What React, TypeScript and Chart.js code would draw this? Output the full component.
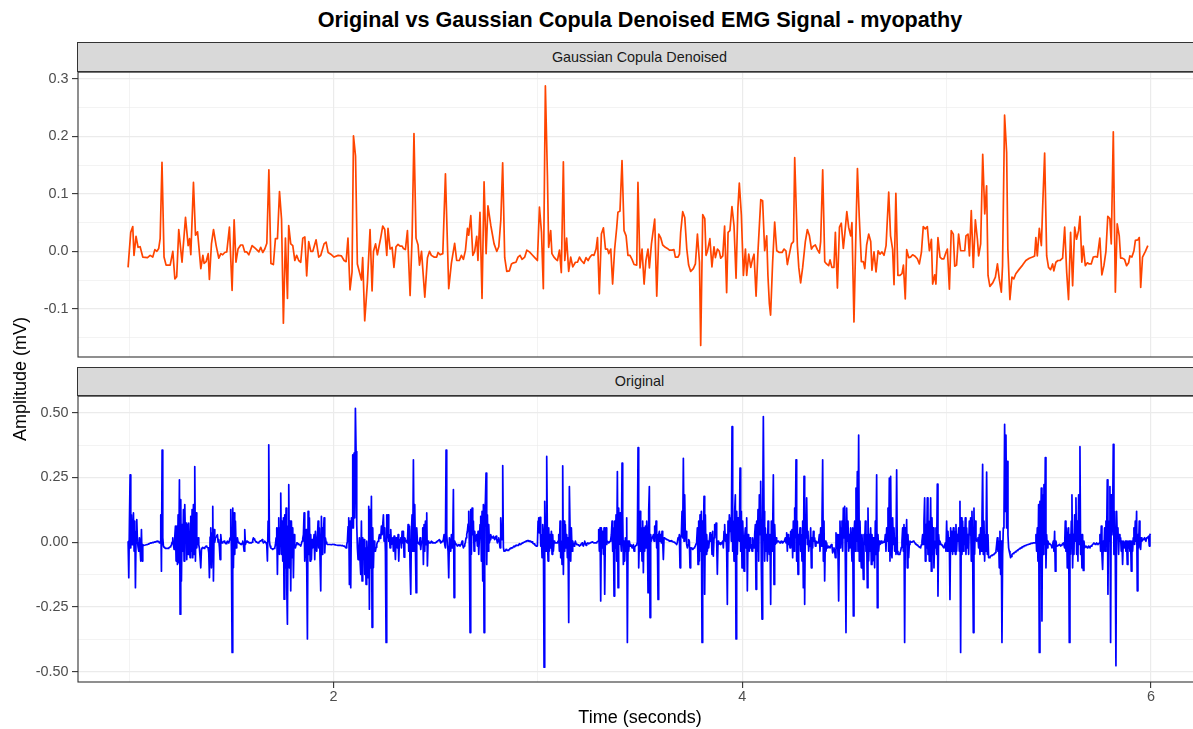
import React, { useEffect, useRef } from "react";
import { Chart, registerables } from "chart.js";

Chart.register(...registerables);

const FONT = '"Liberation Sans", Arial, Helvetica, sans-serif';

const TITLE = "Original vs Gaussian Copula Denoised EMG Signal - myopathy";
const PANEL_TOP_LABEL = "Gaussian Copula Denoised";
const PANEL_BOTTOM_LABEL = "Original";
const X_TITLE = "Time (seconds)";
const Y_TITLE = "Amplitude (mV)";

const X_MIN = 0.75;
const X_MAX = 6.25;
const X_MAJOR = [2, 4, 6];
const X_MINOR = [1, 3, 5];

const TOP_Y_MIN = -0.184;
const TOP_Y_MAX = 0.312;
const TOP_Y_MAJOR = [-0.1, 0, 0.1, 0.2, 0.3];
const TOP_Y_LABELS = ["-0.1", "0.0", "0.1", "0.2", "0.3"];
const TOP_Y_MINOR = [-0.15, -0.05, 0.05, 0.15, 0.25];

const BOT_Y_MIN = -0.54;
const BOT_Y_MAX = 0.564;
const BOT_Y_MAJOR = [-0.5, -0.25, 0, 0.25, 0.5];
const BOT_Y_LABELS = ["-0.50", "-0.25", "0.00", "0.25", "0.50"];
const BOT_Y_MINOR = [-0.375, -0.125, 0.125, 0.375];

// Gaussian Copula denoised signal: [time (s), amplitude (mV)]
const DENOISED: [number, number][] = [
  [0.995, -0.028], [1.008, 0.033], [1.018, 0.043], [1.024, -0.007], [1.034, 0.026], [1.044, 0.007], [1.054, 0.008], [1.067, -0.01], [1.09, -0.011], [1.103, -0.007],
  [1.116, -0.01], [1.126, 0.003], [1.136, 0.0], [1.145, 0.005], [1.152, 0.022], [1.161, 0.155], [1.171, -0.01], [1.181, -0.024], [1.201, -0.024], [1.214, 0.0],
  [1.224, -0.048], [1.233, -0.044], [1.243, 0.038], [1.259, -0.019], [1.276, 0.059], [1.289, 0.01], [1.296, 0.022], [1.302, -0.006], [1.315, 0.12], [1.325, 0.028],
  [1.335, 0.034], [1.351, -0.03], [1.361, -0.007], [1.367, -0.021], [1.377, -0.018], [1.387, -0.004], [1.393, -0.049], [1.403, 0.013], [1.413, 0.038], [1.426, 0.01],
  [1.439, -0.012], [1.449, -0.004], [1.458, -0.006], [1.468, -0.002], [1.478, -0.001], [1.491, 0.042], [1.504, -0.068], [1.514, 0.055], [1.523, -0.019], [1.533, 0.004],
  [1.546, 0.011], [1.556, 0.011], [1.566, -0.001], [1.576, -0.001], [1.586, -0.006], [1.602, 0.01], [1.618, 0.005], [1.635, -0.001], [1.644, 0.007], [1.654, -0.002],
  [1.664, 0.004], [1.674, 0.014], [1.684, 0.142], [1.694, -0.021], [1.706, -0.023], [1.716, 0.022], [1.726, 0.022], [1.736, 0.104], [1.746, 0.056], [1.755, -0.125],
  [1.765, 0.023], [1.775, -0.082], [1.781, 0.045], [1.791, 0.013], [1.801, 0.01], [1.811, -0.016], [1.82, -0.007], [1.83, -0.016], [1.84, -0.019], [1.85, 0.023],
  [1.86, 0.025], [1.869, -0.043], [1.879, 0.017], [1.889, 0.0], [1.899, 0.0], [1.915, 0.02], [1.928, -0.01], [1.938, -0.007], [1.954, 0.013], [1.964, 0.016],
  [1.974, -0.002], [1.987, -0.005], [2.003, -0.01], [2.023, -0.007], [2.039, -0.008], [2.052, -0.016], [2.062, -0.018], [2.071, 0.023], [2.081, -0.067], [2.091, -0.036],
  [2.098, 0.201], [2.108, 0.166], [2.117, -0.022], [2.127, -0.036], [2.137, -0.05], [2.143, -0.011], [2.153, -0.121], [2.166, -0.055], [2.179, 0.038], [2.189, -0.069],
  [2.196, 0.0], [2.206, 0.013], [2.215, -0.006], [2.231, 0.023], [2.241, 0.044], [2.251, 0.038], [2.261, -0.007], [2.267, 0.04], [2.277, 0.004], [2.287, 0.007],
  [2.296, -0.028], [2.306, 0.008], [2.316, 0.012], [2.326, 0.009], [2.336, 0.009], [2.342, 0.005], [2.352, 0.003], [2.362, 0.036], [2.375, -0.077], [2.385, 0.026],
  [2.394, 0.205], [2.404, 0.023], [2.414, 0.011], [2.421, -0.024], [2.431, 0.0], [2.447, -0.08], [2.46, -0.011], [2.47, 0.0], [2.479, -0.007], [2.492, -0.01],
  [2.505, -0.01], [2.512, -0.002], [2.522, -0.006], [2.535, -0.004], [2.548, 0.135], [2.564, -0.065], [2.577, -0.021], [2.593, 0.014], [2.603, -0.016], [2.616, -0.016],
  [2.626, -0.007], [2.636, -0.014], [2.646, 0.002], [2.656, 0.04], [2.662, 0.028], [2.672, 0.062], [2.682, -0.007], [2.691, 0.0], [2.701, 0.026], [2.707, -0.016],
  [2.717, 0.068], [2.727, -0.082], [2.737, 0.121], [2.747, -0.004], [2.756, 0.079], [2.77, 0.045], [2.786, 0.013], [2.799, 0.0], [2.809, 0.008], [2.819, 0.055],
  [2.828, 0.154], [2.838, -0.011], [2.848, -0.035], [2.861, -0.034], [2.871, -0.022], [2.881, -0.02], [2.893, -0.019], [2.903, -0.01], [2.913, -0.007], [2.923, -0.014],
  [2.936, -0.01], [2.946, 0.002], [2.959, -0.001], [2.972, -0.006], [2.985, -0.011], [2.998, -0.016], [3.008, 0.077], [3.018, 0.033], [3.027, -0.065], [3.037, 0.288],
  [3.047, 0.132], [3.053, 0.007], [3.063, 0.036], [3.069, -0.004], [3.079, -0.01], [3.089, -0.014], [3.096, -0.016], [3.106, 0.002], [3.115, -0.037], [3.125, 0.156],
  [3.132, -0.016], [3.141, 0.023], [3.151, -0.035], [3.161, -0.01], [3.171, -0.027], [3.184, -0.019], [3.194, -0.019], [3.204, -0.01], [3.213, -0.016], [3.226, -0.021],
  [3.236, -0.011], [3.246, -0.016], [3.255, -0.01], [3.265, -0.006], [3.275, -0.007], [3.285, 0.004], [3.292, 0.024], [3.301, -0.074], [3.311, 0.03], [3.321, 0.041],
  [3.331, 0.004], [3.341, 0.004], [3.347, -0.004], [3.357, 0.004], [3.366, -0.057], [3.376, 0.004], [3.386, 0.041], [3.392, 0.068], [3.402, 0.07], [3.412, 0.158],
  [3.422, 0.036], [3.432, 0.027], [3.441, -0.007], [3.451, -0.007], [3.461, -0.014], [3.471, -0.023], [3.484, -0.024], [3.49, 0.12], [3.5, -0.029], [3.51, 0.004],
  [3.52, -0.057], [3.529, -0.016], [3.539, 0.004], [3.546, -0.029], [3.556, 0.013], [3.572, 0.056], [3.582, -0.078], [3.592, 0.03], [3.601, 0.024], [3.611, 0.011],
  [3.624, 0.007], [3.634, 0.005], [3.644, 0.002], [3.657, 0.002], [3.666, 0.003], [3.673, -0.01], [3.686, -0.01], [3.693, -0.005], [3.699, 0.033], [3.709, 0.069],
  [3.719, 0.059], [3.729, 0.004], [3.738, -0.024], [3.748, -0.035], [3.761, -0.03], [3.771, -0.022], [3.781, 0.03], [3.791, -0.019], [3.797, -0.164], [3.807, 0.064],
  [3.817, 0.057], [3.823, -0.007], [3.83, 0.0], [3.842, 0.022], [3.852, -0.027], [3.862, 0.008], [3.869, -0.011], [3.879, 0.004], [3.888, 0.0], [3.895, -0.012],
  [3.905, -0.008], [3.914, 0.044], [3.924, -0.072], [3.931, 0.033], [3.94, 0.036], [3.95, 0.078], [3.96, 0.045], [3.97, -0.047], [3.979, 0.075], [3.986, 0.119],
  [3.996, 0.063], [4.006, -0.042], [4.016, 0.004], [4.022, -0.042], [4.032, -0.005], [4.042, -0.028], [4.051, -0.013], [4.058, -0.005], [4.068, -0.078], [4.077, -0.002],
  [4.091, 0.09], [4.1, 0.088], [4.11, 0.001], [4.12, 0.027], [4.126, -0.042], [4.133, -0.091], [4.139, -0.111], [4.149, -0.019], [4.159, 0.051], [4.169, 0.001],
  [4.182, -0.002], [4.195, -0.002], [4.205, 0.004], [4.214, 0.001], [4.221, -0.023], [4.231, -0.005], [4.241, 0.013], [4.251, 0.017], [4.257, 0.163], [4.27, 0.01],
  [4.277, -0.028], [4.286, -0.055], [4.296, -0.028], [4.309, 0.017], [4.319, 0.038], [4.329, 0.027], [4.339, 0.004], [4.348, 0.009], [4.358, 0.011], [4.368, 0.003],
  [4.378, -0.003], [4.384, 0.017], [4.394, 0.142], [4.404, -0.018], [4.413, -0.022], [4.423, -0.025], [4.43, -0.015], [4.439, -0.028], [4.449, -0.028], [4.456, 0.033],
  [4.466, -0.064], [4.476, 0.042], [4.485, 0.049], [4.495, 0.005], [4.502, 0.03], [4.512, 0.069], [4.521, 0.042], [4.531, 0.027], [4.537, 0.05], [4.547, -0.123],
  [4.557, 0.04], [4.564, 0.144], [4.573, 0.059], [4.583, -0.018], [4.593, -0.018], [4.6, -0.03], [4.609, 0.011], [4.619, 0.03], [4.629, 0.017], [4.635, -0.033],
  [4.645, -0.001], [4.655, -0.036], [4.665, 0.001], [4.674, -0.005], [4.684, -0.001], [4.694, -0.007], [4.704, 0.01], [4.717, 0.103], [4.726, 0.027], [4.736, 0.004],
  [4.743, -0.058], [4.752, 0.101], [4.762, -0.042], [4.772, -0.042], [4.782, -0.039], [4.789, -0.024], [4.798, -0.083], [4.805, 0.003], [4.815, -0.011], [4.824, -0.01],
  [4.834, -0.006], [4.844, -0.008], [4.857, -0.013], [4.867, -0.022], [4.877, -0.002], [4.886, 0.043], [4.896, 0.039], [4.906, 0.043], [4.916, 0.001], [4.926, 0.021],
  [4.932, -0.057], [4.942, -0.041], [4.948, -0.057], [4.958, 0.024], [4.968, -0.01], [4.977, -0.013], [4.987, -0.013], [4.997, -0.002], [5.004, 0.004], [5.014, -0.066],
  [5.023, 0.036], [5.033, 0.03], [5.04, -0.026], [5.049, -0.024], [5.059, 0.03], [5.069, 0.001], [5.079, 0.001], [5.089, 0.001], [5.095, 0.027], [5.105, 0.03],
  [5.112, -0.008], [5.121, 0.071], [5.131, -0.028], [5.141, 0.055], [5.151, 0.021], [5.157, -0.008], [5.167, 0.013], [5.177, 0.169], [5.187, 0.065], [5.196, 0.114],
  [5.203, -0.042], [5.212, -0.061], [5.226, -0.055], [5.239, -0.045], [5.249, -0.022], [5.258, -0.048], [5.268, -0.071], [5.274, -0.025], [5.284, 0.237], [5.294, 0.172],
  [5.3, 0.004], [5.31, -0.084], [5.32, -0.045], [5.329, -0.048], [5.339, -0.039], [5.356, -0.031], [5.372, -0.024], [5.388, -0.016], [5.405, -0.012], [5.421, -0.01],
  [5.431, -0.008], [5.437, 0.024], [5.444, -0.008], [5.454, 0.04], [5.464, 0.01], [5.47, 0.074], [5.48, 0.171], [5.49, -0.008], [5.499, -0.028], [5.509, -0.032],
  [5.519, -0.022], [5.525, -0.034], [5.535, -0.019], [5.545, -0.016], [5.555, -0.016], [5.568, -0.012], [5.578, 0.042], [5.588, -0.037], [5.597, -0.084], [5.607, 0.033],
  [5.617, -0.06], [5.627, 0.042], [5.636, 0.021], [5.646, 0.036], [5.653, 0.061], [5.662, -0.019], [5.669, 0.009], [5.679, -0.025], [5.689, -0.02], [5.698, -0.022],
  [5.708, -0.022], [5.718, -0.01], [5.728, -0.009], [5.738, -0.01], [5.75, 0.023], [5.76, -0.041], [5.77, -0.025], [5.78, 0.0], [5.789, 0.061], [5.799, 0.057],
  [5.806, 0.013], [5.816, 0.208], [5.826, -0.071], [5.835, 0.048], [5.845, 0.027], [5.852, -0.012], [5.861, -0.012], [5.871, -0.014], [5.881, -0.025], [5.891, -0.02],
  [5.897, -0.008], [5.907, -0.01], [5.917, 0.001], [5.924, 0.019], [5.936, 0.02], [5.943, 0.024], [5.95, -0.063], [5.959, -0.01], [5.973, 0.0], [5.985, 0.01],
];

// Original signal, sampled every ORIGINAL_PERIOD seconds, in four consecutive segments
const ORIGINAL_PERIOD = 0.0032616;
const ORIGINAL_STARTS = [0.9952, 2.2314, 3.5034, 4.7754];

const ORIG_A = [
  0.004, -0.137, 0.081, 0.26, -0.022, 0.106, -0.01, 0.029, 0.113, -0.035,
  0.081, -0.176, 0.042, 0.087, 0.004, -0.02, -0.035, 0.017, -0.03, -0.073,
  0.049, -0.073, -0.009, -0.012, -0.012, -0.012, -0.011, -0.01, -0.009, -0.009,
  -0.008, -0.006, -0.005, -0.004, -0.003, -0.003, -0.002, -0.001, -0.002, 0,
  0.001, 0.001, 0.002, 0.003, 0.004, 0.002, 0.003, -0.003, -0.003, 0.106,
  -0.112, 0.356, 0.017, -0.015, -0.02, -0.022, -0.024, -0.024, -0.024, -0.024,
  -0.024, -0.022, -0.02, -0.018, -0.015, -0.01, 0, 0.017, -0.01, -0.028,
  0.02, 0.062, -0.073, 0.062, -0.086, 0.106, -0.079, 0.241, -0.278, 0.164,
  -0.15, 0.068, -0.035, 0.126, -0.073, 0.145, 0.017, 0.074, -0.067, 0.068,
  -0.047, 0.074, 0, -0.06, 0.1, -0.035, 0.126, -0.06, 0.145, -0.047,
  0.292, -0.073, 0.113, -0.022, 0.01, 0.017, -0.01, -0.024, -0.06, -0.099,
  -0.03, -0.022, -0.02, -0.022, -0.024, -0.02, -0.018, -0.015, -0.018, -0.02,
  -0.022, -0.04, -0.137, 0.02, 0.055, -0.099, 0.036, 0.138, -0.15, 0.049,
  0, 0.017, 0.02, 0.025, 0.029, 0, 0.01, -0.02, -0.067, 0.029,
  0, -0.003, 0, 0.002, 0.004, 0, -0.004, -0.006, 0, 0.004,
  0, -0.003, 0.006, 0.017, 0.126, -0.035, -0.426, 0.132, -0.099, 0.113,
  -0.047, 0.081, -0.022, 0, 0.017, 0, -0.003, -0.003, -0.006, -0.008,
  -0.009, -0.004, 0.004, -0.01, -0.035, 0.049, -0.009, 0, 0.004, 0.004,
  0, -0.002, -0.003, -0.003, -0.002, -0.003, 0, 0.008, 0.017, 0.012,
  0.008, 0.004, 0.001, 0, -0.002, -0.003, -0.001, 0.002, 0.004, 0.004,
  0.006, 0.01, 0.003, -0.003, 0, 0.004, 0, -0.003, -0.01, -0.073,
  0.081, 0.376, 0.004, -0.015, -0.022, -0.024, -0.026, -0.028, -0.026, -0.024,
  -0.022, -0.01, 0.017, 0.055, -0.124, 0.055, 0.094, -0.047, 0.055, 0.19,
  -0.047, 0.081, -0.073, 0.094, -0.22, 0.106, -0.099, 0.132, -0.176, -0.317,
  0.062, 0.222, -0.099, 0.081, -0.188, 0.081, -0.06, 0.055, -0.137, 0.029,
  -0.01, -0.022, -0.01, -0.003, -0.003, -0.006, -0.009, -0.009, -0.012, -0.015,
  -0.006, 0.004, 0.015, 0.029, 0.113, -0.073, 0.02, 0.049, -0.099, -0.374,
  0.119, -0.047, 0.094, -0.073, 0.029, -0.067, 0.01, -0.022, 0, 0.029,
  -0.067, 0.042, -0.01, -0.035, 0.02, 0.081, -0.022, 0.055, -0.073, -0.188,
  0.1, -0.047, 0.055, 0.02, 0.094, -0.041, 0.017, 0, -0.006, -0.009,
  -0.009, -0.009, -0.009, -0.009, -0.009, -0.01, -0.009, -0.008, -0.009, -0.009,
  -0.01, -0.01, -0.011, -0.011, -0.012, -0.012, -0.012, -0.012, -0.012, -0.012,
  -0.013, -0.013, -0.014, -0.015, -0.015, -0.017, -0.019, -0.022, -0.01, 0.004,
  0.06, 0.094, -0.163, 0.081, -0.176, 0.094, 0.055, 0.337, 0.055, 0.344,
  0.094, 0.517, 0.35, 0.068, -0.022, -0.067, -0.035, 0.017, -0.073, -0.124,
  0.081, -0.15, 0.017, -0.035, 0.01, -0.124, -0.022, -0.163, 0.004, -0.05,
  -0.137, 0.138, -0.259, 0.126, -0.099, 0.177, -0.329, 0.055, -0.099, 0.004,
  -0.02, -0.035, -0.02, -0.009, 0, 0.004, 0.015, 0.029, 0.015,
];

const ORIG_B = [
  0.017, 0.062, 0.029, 0.029, 0.106, 0.004, 0.055, -0.035, -0.387, 0.106,
  0.017, 0.106, 0.004, 0.029, -0.022, 0.049, -0.009, 0.01, 0.017, -0.035,
  0.023, -0.01, -0.067, 0.017, 0, -0.022, 0.029, -0.073, 0.004, 0.01,
  0.017, -0.022, 0.042, -0.003, 0.042, -0.058, 0.017, 0.01, 0.004, 0,
  -0.003, 0.068, -0.035, 0.062, -0.099, -0.201, 0.042, 0.106, -0.035, 0.318,
  -0.035, 0.145, -0.022, -0.195, 0.055, 0.004, -0.003, -0.006, -0.009, 0.017,
  -0.028, 0, 0.004, 0.055, -0.086, 0.068, -0.035, 0.081, -0.01, 0.113,
  -0.092, 0.004, -0.003, -0.003, -0.003, 0, 0.004, 0, -0.003, -0.003,
  -0.003, -0.003, -0.003, 0, 0.002, 0.004, 0.006, 0.008, 0.01, 0.004,
  -0.003, 0, 0.002, 0.004, 0.01, 0.029, -0.01, -0.022, 0.356, 0.029,
  -0.01, -0.035, -0.137, 0.017, -0.02, -0.035, 0.029, -0.022, 0, 0.203,
  -0.214, 0.004, -0.006, -0.008, -0.01, -0.015, -0.012, -0.009, -0.01, -0.015,
  -0.015, -0.006, 0.004, -0.01, -0.022, -0.015, -0.009, 0, 0.017, 0.03,
  0.042, 0.07, 0.119, -0.022, -0.349, 0.126, -0.047, 0.132, 0.029, 0.081,
  -0.035, 0.042, 0.004, 0.015, 0.029, -0.015, 0.042, -0.047, 0.017, 0.068,
  0.1, -0.073, 0.119, -0.15, 0.145, -0.349, 0.119, 0.158, 0.267, -0.086,
  0.106, -0.035, 0.068, -0.003, 0.01, 0.029, 0.02, 0.017, 0.02, 0.023,
  0.015, 0.01, 0.02, 0.023, 0.01, -0.003, 0.01, 0.017, 0, -0.022,
  0.094, 0.04, 0.01, 0.296, -0.02, -0.035, -0.035, -0.034, -0.028, -0.03,
  -0.032, -0.032, -0.03, -0.028, -0.024, -0.025, -0.022, -0.022, -0.02, -0.018,
  -0.015, -0.018, -0.014, -0.012, -0.013, -0.012, -0.012, -0.01, -0.006, -0.008,
  -0.009, -0.006, -0.004, -0.003, -0.001, 0, 0, 0.002, 0.004, 0.003,
  0.006, 0.006, 0.004, 0.003, 0.004, 0.002, 0, 0.001, -0.003, -0.006,
  -0.006, -0.01, -0.012, -0.015, -0.015, -0.015, 0.081, 0.094, 0.036, 0.096,
  -0.015, 0.029, -0.06, 0.068, 0.029, -0.483, 0.158, 0.029, -0.035, 0.331,
  0.029, -0.073, 0.055, -0.035, 0.029, -0.022, 0.042, -0.047, 0.029, -0.035,
  0.004, -0.003, -0.003, -0.003, -0.003, -0.003, 0.004, 0.029, -0.035, 0.081,
  -0.06, 0.004, -0.086, 0.295, -0.124, 0.081, -0.035, 0.068, -0.022, 0.029,
  -0.06, 0.017, -0.31, 0.215, 0.055, -0.073, 0.055, -0.035, 0.004, -0.01,
  -0.015, -0.006, 0.004, -0.006, -0.009, -0.009, -0.01, -0.012, -0.015, -0.012,
  -0.009, -0.006, -0.003, -0.01, -0.015, -0.006, 0.004, -0.006, -0.012, -0.006,
  -0.003, -0.004, -0.006, -0.004, -0.003, -0.002, 0, 0.001, 0, -0.002,
  -0.003, -0.003, -0.003, -0.003, -0.001, 0.002, 0.004, 0.049, -0.035, 0.055,
  -0.227, 0.055, -0.022, 0.042, -0.047, 0.055, -0.201, 0.029, 0.055, -0.009,
  0.004, 0, -0.003, 0, 0.004, 0.01, 0.029, 0.081, -0.035, 0.055,
  -0.208, 0.081, -0.022, 0.106, -0.073, 0.273, -0.176, 0.132, -0.009, 0.113,
  0.004, -0.035, 0.305, 0.106, -0.086, 0.004, -0.073, 0.017, -0.035, 0.094,
  -0.387, 0.004, -0.035, 0.004, -0.015, -0.009, -0.012, -0.022, -0.015, -0.009,
  -0.035, -0.02, -0.015, -0.012, -0.009, 0, 0.365, -0.099, 0.004, 0.119,
];

const ORIG_C = [
  -0.035, 0.055, -0.073, 0.081, -0.118, 0.055, -0.035, 0.062, -0.022, 0.081,
  0.029, -0.195, 0.119, 0.215, -0.291, 0.029, 0.004, 0.017, 0.02, 0.029,
  0.004, 0.062, 0.017, 0.081, -0.022, 0.029, -0.221, 0.029, 0.042, 0.004,
  0.029, -0.003, 0.042, 0.004, -0.067, 0.017, 0.016, 0.014, 0.012, 0.01,
  0.01, 0.008, 0.006, 0.004, 0.005, 0.004, 0.006, 0.003, 0.002, 0.001,
  0, -0.002, -0.003, -0.006, -0.009, 0, 0.017, 0.01, 0.029, -0.099,
  0.017, 0.029, 0.119, 0.017, 0.324, 0.004, 0.183, 0.017, 0.042, -0.009,
  -0.022, -0.009, 0.01, 0.004, -0.099, -0.022, -0.022, -0.024, -0.028, -0.026,
  -0.022, -0.019, -0.015, -0.006, 0.004, 0.055, -0.086, 0.081, -0.073, 0.106,
  -0.035, 0.119, -0.387, 0.081, 0.017, 0.177, -0.201, 0.106, -0.047, 0.029,
  -0.035, 0.004, -0.022, 0.004, 0.036, 0.004, 0.029, -0.047, 0.042, -0.054,
  0.017, 0.068, 0.029, 0.074, 0.004, -0.124, 0.004, -0.009, -0.006, -0.003,
  -0.009, -0.006, 0, 0.004, -0.022, 0.042, 0.068, 0.004, 0.029, -0.035,
  -0.24, 0.081, -0.035, 0.106, 0.042, 0.094, 0.004, 0.446, -0.035, 0.081,
  -0.073, 0.119, 0.183, -0.374, 0.119, -0.047, 0.094, 0.029, 0.004, 0.286,
  -0.035, 0.119, -0.099, 0.081, 0.004, -0.112, 0.017, 0.055, -0.022, 0.094,
  -0.188, 0.029, 0.004, -0.035, 0.017, -0.022, -0.009, -0.035, 0.017, -0.003,
  -0.022, 0.029, 0.068, -0.182, 0.081, -0.035, 0.126, -0.073, 0.183, 0.029,
  0.235, -0.099, -0.297, 0.081, 0.485, 0.119, -0.073, 0.055, -0.035, 0.029,
  -0.073, 0.081, 0.004, -0.047, 0.029, -0.24, 0.081, -0.035, 0.042, 0.26,
  -0.163, 0.068, -0.009, 0.017, -0.003, 0.004, 0.004, 0.002, 0, -0.003,
  0.001, 0.004, 0.002, -0.003, 0, 0.004, 0.008, 0.017, -0.003, 0.036,
  -0.035, 0.029, -0.009, 0.017, -0.022, 0.042, 0.004, 0.049, -0.06, 0.081,
  -0.035, 0.132, 0.017, 0.318, -0.073, 0.081, -0.124, 0.029, -0.009, 0.055,
  -0.035, 0.029, -0.073, 0.081, -0.176, 0.254, -0.24, 0.068, 0.017, 0.171,
  -0.009, 0.042, -0.035, 0.004, -0.015, 0.055, -0.099, 0.017, -0.022, 0.042,
  0.004, 0.017, -0.015, 0.004, 0, -0.003, 0, 0.004, 0.029, -0.035,
  0.055, -0.015, 0.081, 0.318, -0.073, 0.081, -0.15, 0.004, -0.035, -0.003,
  -0.022, -0.02, -0.015, -0.02, -0.022, -0.015, -0.009, -0.015, -0.041, -0.03,
  -0.022, -0.035, -0.06, 0.036, -0.022, 0.029, -0.047, -0.227, 0.029, 0.081,
  -0.022, 0.055, 0.081, -0.035, 0.132, 0.017, 0.138, -0.073, -0.349, 0.132,
  0.004, 0.081, -0.035, 0.029, -0.022, 0.055, 0.004, -0.073, 0.055, -0.285,
  0.029, 0.081, -0.035, 0.209, 0.004, 0.273, -0.035, 0.414, -0.073, 0.081,
  -0.035, -0.099, 0.029, -0.035, -0.144, 0.029, -0.009, 0.081, -0.035, 0.029,
  -0.176, 0.132, -0.073, 0.029, -0.035, 0.055, -0.086, 0.029, -0.073, 0.017,
  -0.035, -0.099, 0.081, -0.047, 0.26, -0.253, 0.029, -0.035, 0.004, -0.009,
  -0.006, 0.004, -0.003, -0.003, 0, 0.004, 0, 0.029, -0.035, 0.055,
  0.004, 0.132, -0.035, 0.247, -0.073, 0.254, -0.035, -0.06, 0.094, -0.009,
  0.055, -0.035, 0.017, -0.047, 0.279, -0.035, -0.047, -0.047, -0.047, -0.041,
];

const ORIG_D = [
  -0.035, -0.02, 0.004, 0.055, -0.035, 0.068, -0.387, 0.055, -0.009, 0.087,
  -0.099, 0.029, -0.06, -0.009, 0.004, 0.002, 0, 0.001, 0.002, 0.004,
  0.002, -0.001, -0.006, -0.008, -0.01, -0.012, -0.014, -0.016, -0.019, -0.02,
  -0.022, -0.01, 0.004, 0.029, -0.009, 0.081, 0.171, -0.073, 0.068, -0.022,
  0.171, -0.047, 0.081, -0.073, 0.004, 0.171, -0.112, 0.094, -0.047, 0.055,
  -0.099, 0.004, -0.022, 0.055, -0.047, 0.224, -0.208, 0.029, -0.009, 0.004,
  -0.006, -0.009, -0.012, -0.015, -0.019, -0.022, -0.01, -0.003, -0.035, 0.081,
  -0.035, 0.042, -0.022, 0.017, -0.221, 0.055, -0.035, 0.042, -0.047, 0.055,
  -0.035, 0.042, -0.047, 0.068, -0.035, 0.029, 0.004, 0.055, -0.035, 0.158,
  -0.426, 0.094, -0.047, 0.081, -0.035, 0.055, -0.009, 0.094, -0.047, 0.055,
  -0.022, 0.029, -0.047, 0.081, 0.029, 0.094, -0.073, 0.119, -0.022, -0.349,
  0.132, -0.047, 0.081, 0.017, 0.004, 0.01, 0.017, -0.022, 0.029, -0.047,
  0.055, -0.035, 0.081, 0.301, -0.047, 0.081, -0.073, 0.029, -0.035, 0.271,
  -0.047, 0.029, -0.06, -0.06, -0.058, -0.054, -0.052, -0.05, -0.05, -0.048,
  -0.046, -0.045, -0.04, -0.035, -0.009, 0.017, -0.035, 0.004, -0.099, 0.042,
  -0.124, 0.004, -0.387, -0.047, 0.055, 0.081, 0.455, 0.119, 0.414, 0.055,
  0.312, 0.029, -0.022, -0.035, -0.047, -0.06, -0.055, -0.047, -0.045, -0.044,
  -0.041, -0.04, -0.038, -0.035, -0.034, -0.032, -0.029, -0.028, -0.026, -0.024,
  -0.023, -0.022, -0.019, -0.018, -0.017, -0.015, -0.014, -0.013, -0.012, -0.011,
  -0.01, -0.009, -0.008, -0.008, -0.006, -0.005, -0.005, -0.004, -0.004, -0.003,
  -0.003, -0.003, -0.003, 0.029, -0.035, 0.055, -0.073, 0.145, -0.426, 0.158,
  0.029, 0.209, -0.304, 0.183, -0.047, 0.222, -0.009, 0.327, -0.099, 0.029,
  -0.022, 0.004, -0.003, -0.006, -0.008, -0.009, -0.012, -0.022, -0.01, 0.004,
  -0.035, 0.042, -0.112, 0.004, -0.015, -0.015, -0.015, -0.012, -0.009, -0.012,
  -0.015, -0.012, -0.009, -0.006, -0.003, -0.01, -0.022, 0.081, -0.035, 0.055,
  -0.099, 0.004, 0.055, -0.387, 0.029, -0.047, 0.081, 0.183, -0.099, 0.029,
  -0.047, 0.106, 0.004, 0.171, -0.047, 0.081, -0.073, 0.183, -0.009, 0.369,
  -0.047, 0.029, -0.099, 0.029, -0.109, 0.004, -0.022, -0.018, -0.015, -0.018,
  -0.022, -0.019, -0.015, -0.018, -0.022, -0.015, -0.015, -0.012, -0.009, -0.006,
  -0.003, -0.006, -0.009, -0.006, -0.003, -0.006, -0.009, -0.006, -0.003, 0.029,
  -0.035, 0.062, -0.047, -0.105, 0.004, -0.035, 0.055, -0.035, 0.081, 0.004,
  0.241, -0.201, 0.081, 0.004, 0.215, -0.387, 0.183, 0.029, 0.081, 0.378,
  -0.047, 0.119, -0.047, -0.477, 0.119, 0.017, 0.055, -0.047, 0.029, 0.004,
  0.017, -0.035, 0.004, -0.086, 0.004, 0.004, -0.022, 0.004, -0.035, 0.004,
  -0.086, 0.004, -0.022, 0.004, -0.035, 0.004, -0.112, 0.004, -0.035, 0.017,
  0.055, -0.009, 0.081, 0.004, 0.119, -0.188, 0.029, -0.022, 0.081, 0.004,
  -0.028, 0.017, 0.004, 0.01, 0.01, 0.014, 0.017, 0.01, 0.004, 0.017,
  0.017, 0.02, 0.023, -0.015, 0.029, 0.032,
];

const ORIGINAL_SEGMENTS = [ORIG_A, ORIG_B, ORIG_C, ORIG_D];

const COLOR_DENOISED = "#FF4500";
const COLOR_ORIGINAL = "#0000FF";

const near = (list: number[], v: number) => list.some((m) => Math.abs(m - v) < 1e-9);

const panelBorder = {
  id: "panelBorder",
  afterDatasetsDraw(chart: any) {
    const { ctx, chartArea: a } = chart;
    ctx.save();
    ctx.strokeStyle = "#333333";
    ctx.lineWidth = 1.1;
    ctx.strokeRect(a.left, a.top, a.right - a.left, a.bottom - a.top);
    ctx.restore();
  },
};

function makeConfig(opts: {
  points: { x: number; y: number }[];
  color: string;
  yMin: number;
  yMax: number;
  yMajor: number[];
  yLabels: string[];
  yMinor: number[];
  showX: boolean;
}): any {
  const { points, color, yMin, yMax, yMajor, yLabels, yMinor, showX } = opts;
  const yTicks = [...yMajor, ...yMinor].sort((a, b) => a - b);
  const xTicks = [...X_MAJOR, ...X_MINOR].sort((a, b) => a - b);
  return {
    type: "line",
    data: {
      datasets: [
        {
          data: points,
          borderColor: color,
          borderWidth: 1.7,
          pointRadius: 0,
          pointHoverRadius: 0,
          fill: false,
          tension: 0,
          borderJoinStyle: "round",
        },
      ],
    },
    options: {
      animation: false,
      responsive: false,
      maintainAspectRatio: false,
      parsing: false,
      normalized: true,
      events: [],
      layout: { padding: { top: 11, right: 8, bottom: showX ? 0 : 13, left: 0 } },
      plugins: { legend: { display: false }, tooltip: { enabled: false } },
      scales: {
        x: {
          type: "linear",
          min: X_MIN,
          max: X_MAX,
          afterBuildTicks: (s: any) => {
            s.ticks = xTicks.map((v) => ({ value: v }));
          },
          afterFit: (s: any) => {
            s.height = showX ? 47 : 0;
          },
          border: { display: false },
          grid: {
            color: "#EBEBEB",
            lineWidth: (c: any) => (c.tick && near(X_MAJOR, c.tick.value) ? 1.2 : 0.6),
            drawTicks: showX,
            tickLength: 6,
            tickWidth: 1.1,
            tickColor: (c: any) => (c.tick && near(X_MAJOR, c.tick.value) ? "#333333" : "rgba(0,0,0,0)"),
          },
          ticks: {
            display: showX,
            autoSkip: false,
            maxRotation: 0,
            padding: 0,
            color: "#4D4D4D",
            font: { family: FONT, size: 14.4 },
            callback: (v: number) => (near(X_MAJOR, v) ? String(v) : ""),
          },
        },
        y: {
          type: "linear",
          min: yMin,
          max: yMax,
          afterBuildTicks: (s: any) => {
            s.ticks = yTicks.map((v) => ({ value: v }));
          },
          afterFit: (s: any) => {
            s.width = 78;
          },
          border: { display: false },
          grid: {
            color: "#EBEBEB",
            lineWidth: (c: any) => (c.tick && near(yMajor, c.tick.value) ? 1.2 : 0.6),
            drawTicks: true,
            tickLength: 6,
            tickWidth: 1.1,
            tickColor: (c: any) => (c.tick && near(yMajor, c.tick.value) ? "#333333" : "rgba(0,0,0,0)"),
          },
          ticks: {
            autoSkip: false,
            padding: 3.5,
            color: "#4D4D4D",
            font: { family: FONT, size: 14.4 },
            callback: (v: number) => {
              const i = yMajor.findIndex((m) => Math.abs(m - v) < 1e-9);
              return i >= 0 ? yLabels[i] : "";
            },
          },
        },
      },
    },
    plugins: [panelBorder],
  };
}

const stripStyle = (top: number, height: number): React.CSSProperties => ({
  position: "absolute",
  left: 77,
  top,
  width: 1125,
  height,
  boxSizing: "border-box",
  background: "#D9D9D9",
  border: "1.1px solid #333333",
  color: "#1A1A1A",
  fontSize: 14.4,
  lineHeight: `${height - 2}px`,
  textAlign: "center",
});

export default function App() {
  const topRef = useRef<HTMLCanvasElement>(null);
  const botRef = useRef<HTMLCanvasElement>(null);

  useEffect(() => {
    const denoisedPoints = DENOISED.map(([t, v]) => ({ x: t, y: v }));
    const originalPoints: { x: number; y: number }[] = [];
    ORIGINAL_SEGMENTS.forEach((seg, s) => {
      seg.forEach((v, i) => originalPoints.push({ x: ORIGINAL_STARTS[s] + i * ORIGINAL_PERIOD, y: v }));
    });

    const top = new Chart(
      topRef.current as HTMLCanvasElement,
      makeConfig({
        points: denoisedPoints,
        color: COLOR_DENOISED,
        yMin: TOP_Y_MIN,
        yMax: TOP_Y_MAX,
        yMajor: TOP_Y_MAJOR,
        yLabels: TOP_Y_LABELS,
        yMinor: TOP_Y_MINOR,
        showX: false,
      })
    );
    const bot = new Chart(
      botRef.current as HTMLCanvasElement,
      makeConfig({
        points: originalPoints,
        color: COLOR_ORIGINAL,
        yMin: BOT_Y_MIN,
        yMax: BOT_Y_MAX,
        yMajor: BOT_Y_MAJOR,
        yLabels: BOT_Y_LABELS,
        yMinor: BOT_Y_MINOR,
        showX: true,
      })
    );
    return () => {
      top.destroy();
      bot.destroy();
    };
  }, []);

  return (
    <div
      style={{
        position: "fixed",
        left: 0,
        top: 0,
        width: 1193,
        height: 729,
        overflow: "hidden",
        background: "#FFFFFF",
        fontFamily: FONT,
      }}
    >
      <div
        style={{
          position: "absolute",
          left: 78,
          width: 1124,
          top: 6,
          height: 28,
          lineHeight: "28px",
          textAlign: "center",
          fontWeight: "bold",
          fontSize: 21.6,
          color: "#000000",
          whiteSpace: "nowrap",
        }}
      >
        {TITLE}
      </div>

      <div style={stripStyle(42, 30)}>{PANEL_TOP_LABEL}</div>
      <div style={{ position: "absolute", left: 0, top: 60, width: 1210, height: 310 }}>
        <canvas ref={topRef} width={1210} height={310} style={{ display: "block", width: 1210, height: 310 }} />
      </div>

      <div style={stripStyle(367, 29)}>{PANEL_BOTTOM_LABEL}</div>
      <div style={{ position: "absolute", left: 0, top: 384, width: 1210, height: 345 }}>
        <canvas ref={botRef} width={1210} height={345} style={{ display: "block", width: 1210, height: 345 }} />
      </div>

      <div
        style={{
          position: "absolute",
          left: 78,
          width: 1124,
          top: 705,
          height: 24,
          lineHeight: "24px",
          textAlign: "center",
          fontSize: 18,
          color: "#000000",
          whiteSpace: "nowrap",
        }}
      >
        {X_TITLE}
      </div>

      <div
        style={{
          position: "absolute",
          left: 20,
          top: 379,
          width: 300,
          height: 24,
          lineHeight: "24px",
          textAlign: "center",
          fontSize: 18,
          color: "#000000",
          whiteSpace: "nowrap",
          transform: "translate(-50%, -50%) rotate(-90deg)",
        }}
      >
        {Y_TITLE}
      </div>
    </div>
  );
}
